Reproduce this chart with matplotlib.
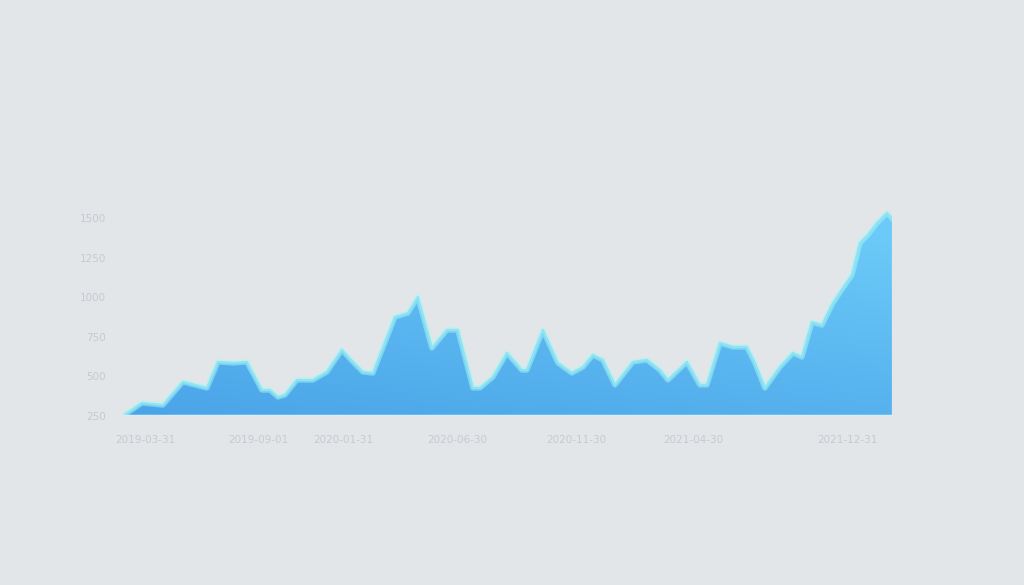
import numpy as np
import matplotlib.pyplot as plt

# day offsets and values
days = [0, 38, 80, 120, 168, 190, 220, 248, 278, 294, 310, 324, 348, 380,
        408, 438, 460, 480, 500, 544, 570, 590, 618, 648, 670, 700, 714,
        740, 768, 798, 808, 840, 870, 898, 920, 940, 960, 984, 1020, 1048,
        1074, 1090, 1128, 1154, 1168, 1194, 1220, 1248, 1264, 1284, 1314,
        1340, 1358, 1378, 1398, 1420, 1440, 1458, 1474, 1490, 1508, 1528, 1538]
values = [250, 332, 319, 465, 427, 591, 585, 591, 414, 414, 370, 383, 477, 477,
          528, 667, 591, 528, 521, 875, 900, 1001, 679, 793, 793, 427, 427,
          496, 648, 540, 540, 793, 585, 521, 559, 635, 604, 446, 591, 604,
          540, 477, 591, 446, 446, 711, 686, 686, 585, 427, 559, 648, 622,
          843, 824, 963, 1058, 1140, 1342, 1393, 1468, 1532, 1500]

tick_days = [44, 270, 440, 668, 906, 1140, 1450]
tick_labels = ['2019-03-31', '2019-09-01', '2020-01-31', '2020-06-30',
               '2020-11-30', '2021-04-30', '2021-12-31']
y_ticks = [250, 500, 750, 1000, 1250, 1500]
y_labels = ['250', '500', '750', '1000', '1250', '1500']

bg = '#e3e6e9'
fig = plt.figure(figsize=(10.24, 5.85), dpi=100, facecolor=bg)
ax = fig.add_axes([0.120, 0.289, 0.751, 0.352])
ax.set_facecolor(bg)

ax.set_xlim(days[0], days[-1])
ax.set_ylim(250, 1550)

# gradient fill, clipped to the area under the curve
poly = ax.fill_between(days, values, 250, color='none', lw=0)
top = np.array([0x6c, 0xca, 0xf8]) / 255
bot = np.array([0x4a, 0xa4, 0xe8]) / 255
ty = np.linspace(0, 1, 256)[:, None, None]
tx = np.linspace(0, 1, 256)[None, :, None]
t = np.clip(0.75 * ty + 0.35 * tx, 0, 1)
img = bot * (1 - t) + top * t
im = ax.imshow(img, extent=[days[0], days[-1], 250, 1550],
               origin='lower', aspect='auto', zorder=1)
im.set_clip_path(poly.get_paths()[0], transform=ax.transData)

# glowing outline
ax.plot(days, values, color='#b0f2f7', lw=4, alpha=0.5, zorder=2,
        solid_joinstyle='round')
ax.plot(days, values, color='#8ae6f0', lw=1.6, zorder=3,
        solid_joinstyle='round')
ax.axhline(250, color='#d8eff9', lw=2.5, zorder=4)

for s in ax.spines.values():
    s.set_visible(False)
ax.set_yticks(y_ticks)
ax.set_yticklabels(y_labels)
ax.set_xticks(tick_days)
ax.set_xticklabels(tick_labels)
ax.tick_params(length=0, colors='#c6cacf', labelsize=7.5)
ax.tick_params(axis='x', pad=14)
ax.tick_params(axis='y', pad=12)

fig.savefig('out.png', dpi=100, facecolor=bg)
